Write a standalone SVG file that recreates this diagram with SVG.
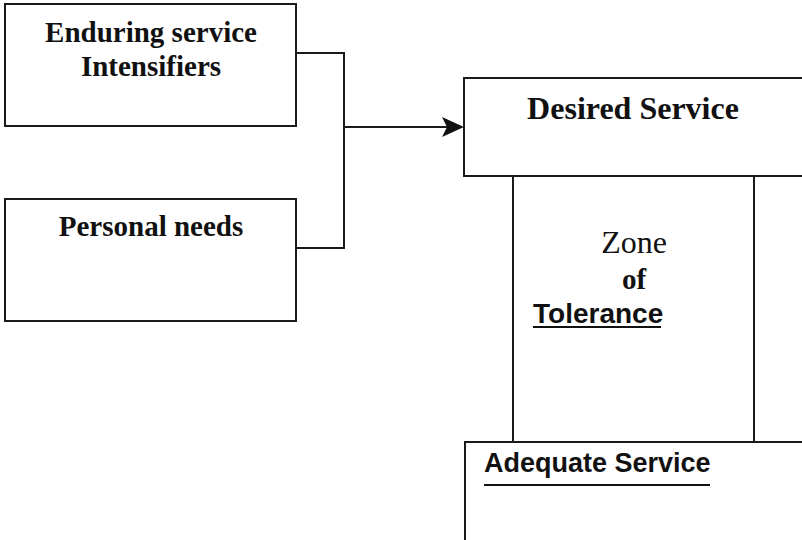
<svg xmlns="http://www.w3.org/2000/svg" width="802" height="540" viewBox="0 0 802 540">
<style>
.box{fill:#fff;stroke:#1a1a1a;stroke-width:2}
.ln{fill:none;stroke:#1a1a1a;stroke-width:2}
.sb{font-family:"Liberation Serif","Times New Roman",serif;font-weight:bold;font-size:29px;fill:#111}
.sr{font-family:"Liberation Serif","Times New Roman",serif;font-size:32px;fill:#111}
.ab{font-family:"Liberation Sans",Arial,sans-serif;font-weight:bold;font-size:27px;fill:#111}
</style>
<rect width="802" height="540" fill="#fff"/>
<g id="connectors">
<path class="ln" d="M296,53 H344 V248 H296"/>
<path class="ln" d="M344,127 H450"/>
<path d="M442,117 L464,127 L442,137 L447,127 Z" fill="#111"/>
<path class="ln" d="M513,176 V442 M754,176 V442"/>
</g>
<g id="enduring">
<rect class="box" x="5" y="4" width="291" height="122"/>
<text class="sb" x="151" y="42" text-anchor="middle">Enduring service</text>
<text class="sb" x="151" y="76" text-anchor="middle">Intensifiers</text>
</g>
<g id="personal">
<rect class="box" x="5" y="199" width="291" height="122"/>
<text class="sb" x="151" y="236" text-anchor="middle">Personal needs</text>
</g>
<g id="desired">
<rect class="box" x="464" y="78" width="346" height="98"/>
<text class="sb" x="633" y="119" text-anchor="middle" style="font-size:32px">Desired Service</text>
</g>
<g id="zone">
<text class="sr" x="634" y="253" text-anchor="middle">Zone</text>
<text class="sb" x="634" y="289" text-anchor="middle">of</text>
<text class="ab" x="533" y="323" style="font-size:28px">Tolerance</text>
<line x1="533" y1="327" x2="661" y2="327" stroke="#111" stroke-width="2"/>
</g>
<g id="adequate">
<rect class="box" x="465" y="442" width="345" height="110"/>
<text class="ab" x="484" y="472">Adequate Service</text>
<line x1="484" y1="485" x2="710" y2="485" stroke="#111" stroke-width="2"/>
</g>
</svg>
